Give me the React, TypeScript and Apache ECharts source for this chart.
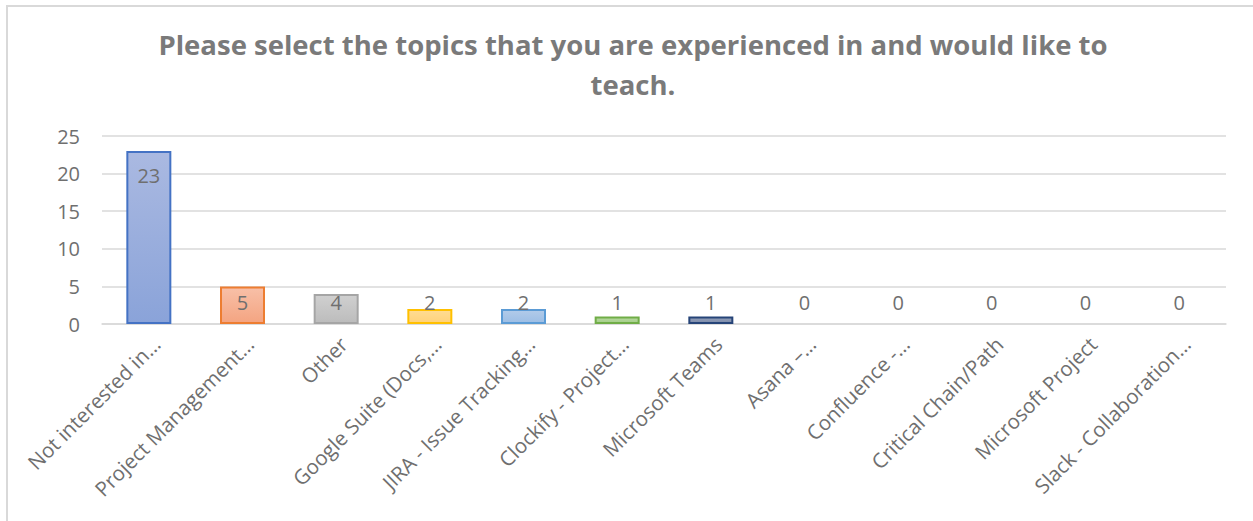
import React, { useEffect, useRef } from "react";
import * as echarts from "echarts";

const titleText = "Please select the topics that you are experienced in and would like to\nteach.";
const categories = [
  "Not interested in…",
  "Project Management…",
  "Other",
  "Google Suite (Docs,…",
  "JIRA - Issue Tracking…",
  "Clockify - Project…",
  "Microsoft Teams",
  "Asana –…",
  "Confluence -…",
  "Critical Chain/Path",
  "Microsoft Project",
  "Slack - Collaboration…",
];
const values = [23, 5, 4, 2, 2, 1, 1, 0, 0, 0, 0, 0];
const yTicks = [0, 5, 10, 15, 20, 25];
const borderColors = ["#4472c4", "#ed7d31", "#a5a5a5", "#ffc000", "#5b9bd5", "#70ad47", "#264478", "#9e480e", "#636363", "#997300", "#255e91", "#43682b"];
const topColors = ["#aab9e1", "#f8c0a8", "#d0d0d0", "#ffdc93", "#b2cbe9", "#b8d8a2", "#939fb8", "#d9a07a", "#b9b9b9", "#d6bd7a", "#8fb3d4", "#98b888"];
const bottomColors = ["#8aa3d9", "#f4a481", "#bcbcbc", "#ffd27a", "#9cbee5", "#a4cf88", "#7c8bab", "#c98a62", "#a8a8a8", "#c9ab5f", "#7aa3c9", "#85a873"];

export default function App() {
  const ref = useRef<HTMLDivElement>(null);
  useEffect(() => {
    document.body.style.margin = "0";
    const chart = echarts.init(ref.current!, null, { renderer: "svg" });
    const data = values.map((v, i) => ({
      value: v,
      itemStyle: {
        color: new echarts.graphic.LinearGradient(0, 0, 0, 1, [
          { offset: 0, color: topColors[i] },
          { offset: 1, color: bottomColors[i] },
        ]),
        borderColor: borderColors[i],
        borderWidth: v > 0 ? 2 : 0,
      },
      label: v > 10 ? { position: "insideTop", distance: 14 } : { position: "insideBottom", distance: 12 },
    }));
    chart.setOption({
      animation: false,
      backgroundColor: "#ffffff",
      title: {
        text: titleText,
        left: 628,
        top: 19,
        textAlign: "center",
        textStyle: {
          fontFamily: "Open Sans",
          fontWeight: "bold",
          fontSize: 27.5,
          lineHeight: 40,
          color: "#7a7a7a",
        },
      },
      graphic: [
        {
          type: "polyline",
          shape: { points: [[7, 521], [7, 6], [1253, 6]] },
          style: { stroke: "#d9d9d9", lineWidth: 2, fill: "none" },
        },
      ],
      grid: { left: 102, right: 27, top: 136, bottom: 197, containLabel: false },
      xAxis: {
        type: "category",
        data: categories,
        axisTick: { show: false },
        axisLine: { lineStyle: { color: "#d9d9d9", width: 1.5 } },
        axisLabel: {
          interval: 0,
          rotate: 45,
          margin: 9,
          verticalAlign: "top",
          fontFamily: "Open Sans",
          fontSize: 20.5,
          color: "#6f6f6f",
        },
      },
      yAxis: {
        type: "value",
        min: yTicks[0],
        max: yTicks[yTicks.length - 1],
        interval: 5,
        axisLine: { show: false },
        axisTick: { show: false },
        splitLine: { lineStyle: { color: "#d9d9d9", width: 1.5 } },
        axisLabel: {
          margin: 22,
          fontFamily: "Open Sans",
          fontSize: 20,
          color: "#6f6f6f",
        },
      },
      series: [
        {
          type: "bar",
          data,
          barWidth: 45,
          label: {
            show: true,
            fontFamily: "Open Sans",
            fontSize: 20,
            color: "#6f6f6f",
          },
        },
      ],
    });
    return () => chart.dispose();
  }, []);
  return <div ref={ref} style={{ width: 1253, height: 521 }} />;
}
